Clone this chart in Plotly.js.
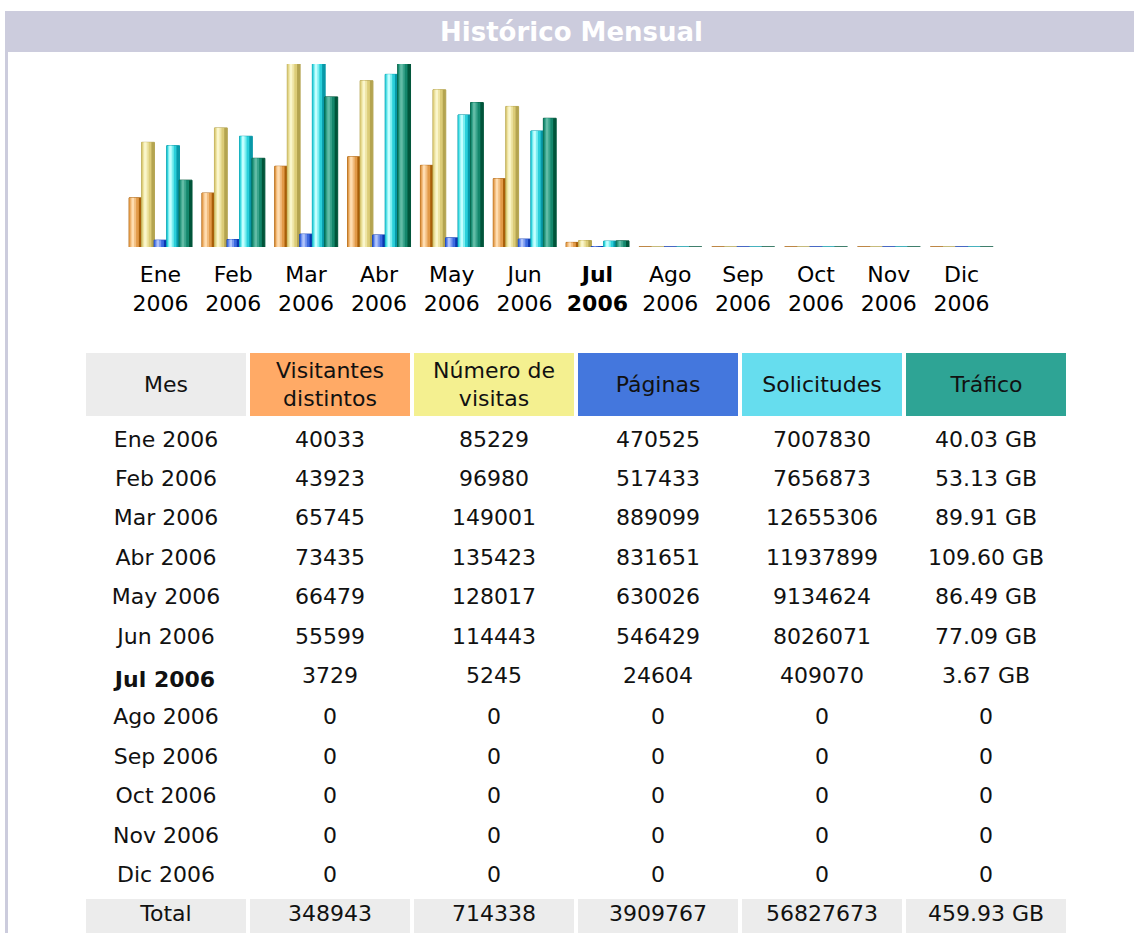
<!DOCTYPE html>
<html>
<head>
<meta charset="utf-8">
<script src="https://cdn.plot.ly/plotly-3.0.1.min.js"></script>
<style>html,body{margin:0;padding:0;background:#fff;}#chart{width:1134px;height:933px;}</style>
</head>
<body>
<div id="chart"></div>
<script>
// ---- data ----
const months = ['Ene','Feb','Mar','Abr','May','Jun','Jul','Ago','Sep','Oct','Nov','Dic'];
const year = '2006';
const currentMonthIndex = 6;
const visitors  = [40033, 43923, 65745, 73435, 66479, 55599, 3729, 0, 0, 0, 0, 0];
const visits    = [85229, 96980, 149001, 135423, 128017, 114443, 5245, 0, 0, 0, 0, 0];
const pages     = [470525, 517433, 889099, 831651, 630026, 546429, 24604, 0, 0, 0, 0, 0];
const hits      = [7007830, 7656873, 12655306, 11937899, 9134624, 8026071, 409070, 0, 0, 0, 0, 0];
const trafficGB = [40.03, 53.13, 89.91, 109.60, 86.49, 77.09, 3.67, 0, 0, 0, 0, 0];
const totalLabel = 'Total';
const totals    = [348943, 714338, 3909767, 56827673, 459.93];
const headerLabels = ['Mes', 'Visitantes<br>distintos', 'Número de<br>visitas', 'Páginas', 'Solicitudes', 'Tráfico'];
const chartTitle = 'Histórico Mensual';

// ---- styling ----
const W = 1134, H = 933;
const FONT = 'DejaVu Sans, Verdana, sans-serif';
const headerFills = ['#ECECEC', '#FFAA66', '#F4F090', '#4477DD', '#66DDEE', '#2EA495'];
// gradient layers per series: [right-edge dark, body, light, highlight]
const seriesStyles = [
  {data: visitors,  axis: 'y',  shades: ['#A85E08', '#E29A48', '#F2BE80', '#FFDDB0']},
  {data: visits,    axis: 'y',  shades: ['#B4A450', '#DCCC78', '#EEE4A4', '#FAF6CC']},
  {data: pages,     axis: 'y2', shades: ['#0A36B0', '#3C6AE0', '#7898F0', '#B0C4FA']},
  {data: hits,      axis: 'y2', shades: ['#0898A8', '#2ACFDA', '#7CEEF0', '#C4FFFF']},
  {data: trafficGB, axis: 'y3', shades: ['#00553A', '#14876C', '#3AA48C', '#62BCA6']}
];
const layerSpans = [[0, 1], [0, 0.78], [0.1, 0.56], [0.2, 0.4]];

const xLabels = months.map((m, i) => i === currentMonthIndex ? `<b>${m}<br>${year}</b>` : `${m}<br>${year}`);

const groupWidth = 0.86, barW = groupWidth / seriesStyles.length;
const traces = [];
seriesStyles.forEach((s, k) => {
  const start = -groupWidth / 2 + k * barW;
  layerSpans.forEach((span, li) => {
    traces.push({
      type: 'bar', x: xLabels, y: s.data, yaxis: s.axis,
      width: barW * (span[1] - span[0]) + (li === 0 ? 0.004 : 0),
      offset: start + barW * span[0],
      marker: {color: s.shades[li], line: {width: li === 0 ? 1 : 0, color: s.shades[0]}},
      hoverinfo: 'skip', showlegend: false
    });
  });
});

// ---- table ----
const monthCol = months.map((m, i) => i === currentMonthIndex ? `<b>${m} ${year}</b>` : `${m} ${year}`).concat([totalLabel]);
const fmtInt = v => String(v);
const fmtGB = v => v > 0 ? v.toFixed(2) + ' GB' : '0';
const cols = [
  monthCol,
  visitors.map(fmtInt).concat([fmtInt(totals[0])]),
  visits.map(fmtInt).concat([fmtInt(totals[1])]),
  pages.map(fmtInt).concat([fmtInt(totals[2])]),
  hits.map(fmtInt).concat([fmtInt(totals[3])]),
  trafficGB.map(fmtGB).concat([fmtGB(totals[4])])
];
const bodyFill = cols.map(c => c.map((_, r) => r === c.length - 1 ? '#ECECEC' : '#FFFFFF'));

const tableLeft = 84, tableRight = 1068, colW = (tableRight - tableLeft) / headerLabels.length;
traces.push({
  type: 'table',
  domain: {x: [tableLeft / W, tableRight / W], y: [0, 1 - 406 / H]},
  columnwidth: headerLabels.map(() => 1),
  header: {values: [], height: 0, line: {width: 0}, fill: {color: 'rgba(0,0,0,0)'}},
  cells: {
    values: cols,
    fill: {color: bodyFill},
    line: {color: '#FFFFFF', width: 4},
    align: 'center', height: 39.45,
    font: {family: FONT, size: 22, color: '#111'}
  }
});

// header row of the table: coloured boxes with vertically centred labels
const headerAnnotations = headerLabels.map((lab, i) => ({
  xref: 'paper', yref: 'paper',
  x: (tableLeft + colW * (i + 0.5)) / W, y: 1 - 384.5 / H,
  xanchor: 'center', yanchor: 'middle',
  text: lab, showarrow: false, align: 'center', valign: 'middle',
  width: colW - 4, height: 63, bgcolor: headerFills[i], borderpad: 0, borderwidth: 0,
  font: {family: FONT, size: 22, color: '#111'}
}));

const layout = {
  width: W, height: H,
  margin: {l: 0, r: 0, t: 0, b: 0},
  paper_bgcolor: '#FFFFFF', plot_bgcolor: 'rgba(0,0,0,0)',
  barmode: 'overlay',
  title: {text: chartTitle, x: 0.504, xanchor: 'center', y: 1 - 32 / H, yanchor: 'middle',
          font: {family: FONT, size: 26, color: '#FFFFFF', weight: 'bold'}},
  xaxis: {domain: [124 / W, 998 / W], type: 'category', showgrid: false, zeroline: false, showline: false,
          ticks: '', ticklabelstandoff: 12, tickfont: {family: FONT, size: 22, color: '#000'}, fixedrange: true},
  yaxis: {domain: [1 - 247 / H, 1 - 64 / H], range: [0, Math.max(...visits, ...visitors)], visible: false, fixedrange: true},
  yaxis2: {overlaying: 'y', range: [0, Math.max(...hits, ...pages)], visible: false, fixedrange: true},
  yaxis3: {overlaying: 'y', range: [0, Math.max(...trafficGB)], visible: false, fixedrange: true},
  annotations: headerAnnotations,
  shapes: [
    {type: 'rect', xref: 'paper', yref: 'paper', x0: 5 / W, x1: 1, y0: 1 - 52 / H, y1: 1 - 11 / H,
     fillcolor: '#CCCCDD', line: {width: 0}, layer: 'below'},
    {type: 'rect', xref: 'paper', yref: 'paper', x0: 5 / W, x1: 8 / W, y0: 0, y1: 1 - 52 / H,
     fillcolor: '#CCCCDD', line: {width: 0}, layer: 'below'}
  ]
};

Plotly.newPlot('chart', traces, layout, {displayModeBar: false, staticPlot: true});
</script>
</body>
</html>
